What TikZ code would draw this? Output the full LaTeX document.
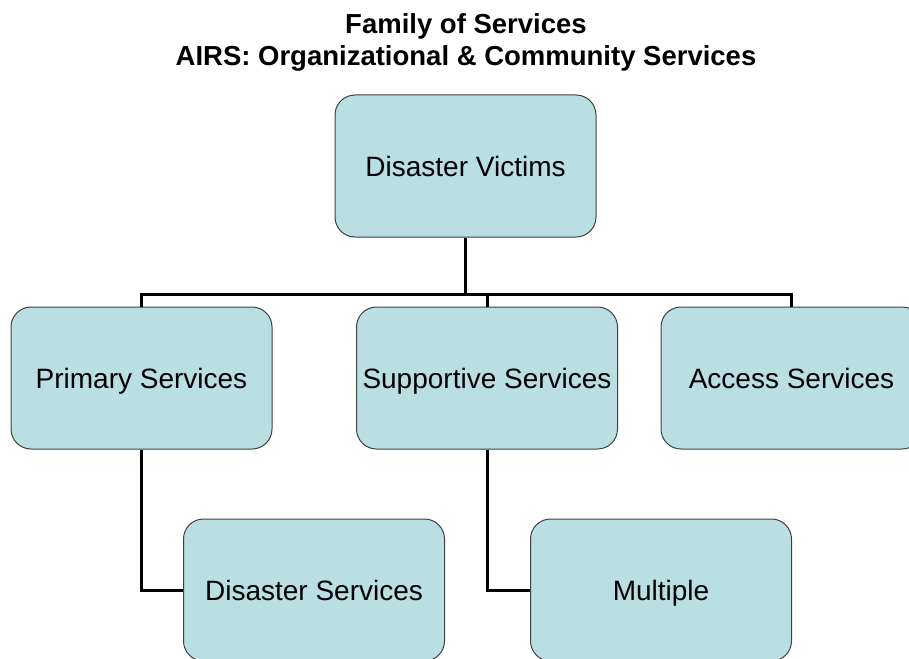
\documentclass[tikz,border=0pt]{standalone}
\usepackage{fontspec}
\setmainfont{Liberation Sans}
\usetikzlibrary{positioning}

\definecolor{boxfill}{HTML}{B9DFE3}
\definecolor{boxline}{HTML}{404040}

\tikzset{
  svc/.style={draw=boxline,fill=boxfill,line width=1pt,rounded corners=20pt,
    minimum width=261pt,minimum height=142pt,inner sep=0pt,
    text height=20pt,text depth=0pt,
    font=\fontsize{28}{32}\selectfont},
  link/.style={draw=black,line width=3pt}
}

\begin{document}
\begin{tikzpicture}[x=1pt,y=-1pt]
  \clip (0,0) rectangle (909,658);
  \useasboundingbox (0,0) rectangle (909,658);
  \node[font=\bfseries\fontsize{27.5}{32}\selectfont,align=center,inner sep=0pt,anchor=north] (title) at (466,13)
    {Family of Services\\AIRS: Organizational \& Community Services};
  \node[svc] (victims) at (465.5,166) {Disaster Victims};
  \node[svc] (primary) at (141.5,378) {Primary Services};
  \node[svc] (supportive) at (487,378) {Supportive Services};
  \node[svc] (access) at (791.5,378) {Access Services};
  \node[svc] (disaster) at (314,590) {Disaster Services};
  \node[svc] (multiple) at (661,590) {Multiple};
  \coordinate (bar) at (0,294);
  % tree links
  \path[link] (victims.south) -- (victims.south |- bar);
  \path[link] (primary.north) -- (primary.north |- bar) -- (access.north |- bar) -- (access.north);
  \path[link] (supportive.north) -- (supportive.north |- bar);
  \path[link] (primary.south) |- (disaster.west);
  \path[link] (supportive.south) |- (multiple.west);
\end{tikzpicture}
\end{document}
